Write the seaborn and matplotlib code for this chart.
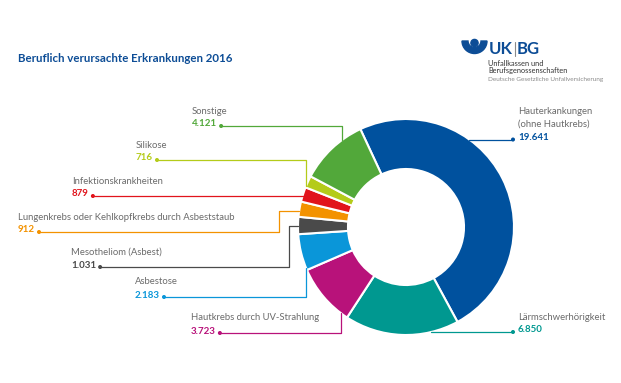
# Donut chart of occupational diseases 2016 (UK|BG)
import numpy as np
import matplotlib.pyplot as plt
import seaborn as sns
from matplotlib.patches import Circle, Wedge

# Data, clockwise starting with the big blue segment
categories = ["Hauterkankungen\n(ohne Hautkrebs)", "Lärmschwerhörigkeit",
              "Hautkrebs durch UV-Strahlung", "Asbestose", "Mesotheliom (Asbest)",
              "Lungenkrebs oder Kehlkopfkrebs durch Asbeststaub",
              "Infektionskrankheiten", "Silikose", "Sonstige"]
values = [19641, 6850, 3723, 2183, 1031, 912, 879, 716, 4121]
colors = ["#00519e", "#009890", "#b8127a", "#0a96d9", "#4a4a4a",
          "#f39200", "#e1141c", "#b4cb1a", "#52a83a"]

# Layout (pixels from the top-left corner)
W, H = 621, 383
cx, cy, R = 406, 227, 108
label_pos = [(518, 112), (518, 317), (191, 318), (135, 282), (71, 252),
             (18, 217), (72, 181), (136, 145), (192, 111)]
# leader: (kind, elbow x, step y)
leaders = [("right", None, None), ("right", None, None), ("v", 341, None),
           ("v", 306, None), ("step", 289, 226), ("step", 279, 211),
           ("h", None, None), ("v", 306, None), ("v", 342, None)]

sns.set_theme(style="white")
plt.rcParams["font.family"] = ["Lato", "DejaVu Sans"]

fig = plt.figure(figsize=(W / 100, H / 100), dpi=100)
ax = fig.add_axes([0, 0, 1, 1])


def Y(y):
    return H - y


ax.pie(values, colors=colors, startangle=115, counterclock=False,
       radius=R, center=(cx, Y(cy)),
       wedgeprops=dict(width=50, edgecolor="white", linewidth=1.5))
ax.set_xlim(0, W)
ax.set_ylim(0, H)
ax.set_aspect("equal")
ax.axis("off")

renderer = fig.canvas.get_renderer()
name_color = "#6b6b6b"
fs = 6.8

for name, val, col, (lx, ly), (kind, ex, sy) in zip(categories, values, colors, label_pos, leaders):
    lines = name.split("\n")
    for i, line in enumerate(lines):
        ax.text(lx, Y(ly + i * 12.5), line, fontsize=fs, color=name_color, va="center", ha="left")
    vy = ly + len(lines) * 12.5 + 0.5
    vt = ax.text(lx, Y(vy), f"{val:,}".replace(",", "."), fontsize=fs + 0.2, color=col,
                 fontweight="bold", va="center", ha="left")
    ly_line = vy + 2
    if kind == "right":
        dx = lx - 5
        xe = cx + np.sqrt(R ** 2 - (ly_line - cy) ** 2)
        ax.plot([xe, dx], [Y(ly_line), Y(ly_line)], color=col, lw=0.9)
    else:
        bb = vt.get_window_extent(renderer)
        dx = bb.x1 + 4
        if kind == "h":
            xe = cx - np.sqrt(R ** 2 - (ly_line - cy) ** 2)
            xs, ys = [dx, xe], [ly_line, ly_line]
        elif kind == "v":
            s = -1 if ly_line < cy else 1
            ye = cy + s * np.sqrt(R ** 2 - (ex - cx) ** 2)
            xs, ys = [dx, ex, ex], [ly_line, ly_line, ye]
        else:
            xe = cx - np.sqrt(R ** 2 - (sy - cy) ** 2)
            xs, ys = [dx, ex, ex, xe], [ly_line, ly_line, sy, sy]
        ax.plot(xs, [Y(v) for v in ys], color=col, lw=0.9)
    ax.add_patch(Circle((dx, Y(ly_line)), 1.3, color=col, zorder=5))

# Title
ax.text(18, Y(59), "Beruflich verursachte Erkrankungen 2016", fontsize=8.3,
        fontweight="bold", color="#0d4d96", va="center", ha="left")

# Logo
logo_blue = "#0d4d96"
ax.add_patch(Wedge((474.5, Y(41)), 12.5, 180, 360, width=6, color=logo_blue))
ax.add_patch(Circle((474.5, Y(43)), 3.6, color=logo_blue))
uk = ax.text(489, Y(49), "UK", fontsize=12, fontweight="bold", color=logo_blue,
             va="center", ha="left")
bx = uk.get_window_extent(renderer).x1 + 2
ax.plot([bx, bx], [Y(42), Y(56)], color="#8a8a8a", lw=0.8)
ax.text(bx + 2, Y(49), "BG", fontsize=12, fontweight="bold", color=logo_blue,
        va="center", ha="left")
ax.text(488, Y(63), "Unfallkassen und", fontsize=5.3, color="#333333", va="center", ha="left")
ax.text(488, Y(71), "Berufsgenossenschaften", fontsize=5.3, color="#333333", va="center", ha="left")
ax.text(488, Y(79), "Deutsche Gesetzliche Unfallversicherung", fontsize=4.6, color="#8a8a8a",
        va="center", ha="left")

fig.savefig("out.png", dpi=100)
